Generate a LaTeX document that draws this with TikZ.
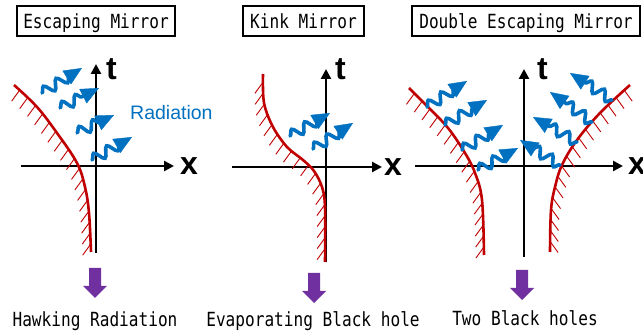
\documentclass[tikz,border=0pt]{standalone}
\usepackage{fontspec}
\usepackage{graphicx}
\newfontfamily\monofont{DejaVu Sans Mono}
\newfontfamily\arialfont{Liberation Sans}
\usetikzlibrary{arrows.meta,calc,decorations.pathmorphing,decorations.markings}
\definecolor{mred}{HTML}{C00000}
\definecolor{mblue}{HTML}{0070C0}
\definecolor{mpurple}{HTML}{7030A0}
\newcommand\mynarrow[1]{\scalebox{0.826}[1]{#1}}
\begin{document}
\begin{tikzpicture}[x=1pt,y=-1pt,
  axis/.style={line width=2.6pt,-{Triangle[length=10pt,width=10pt]}},
  axlabel/.style={font=\arialfont\bfseries\fontsize{32}{34}\selectfont,anchor=base west,inner sep=0pt},
  titlebox/.style={draw,line width=1.6pt,inner sep=0pt,minimum height=30pt,text height=18pt,text depth=2pt,font=\monofont\fontsize{19.5}{22}\selectfont},
  bottomtext/.style={anchor=base,inner sep=0pt,font=\monofont\fontsize{19.5}{22}\selectfont},
  wavebody/.style={mblue,line width=3.6pt,line cap=round,decorate,decoration={snake,segment length=15pt,amplitude=5pt}},
  wavehead/.style={mblue,line width=0.4pt,-{Triangle[length=18pt,width=16pt]}},
  mirrorL/.style={draw=mred,line width=2.6pt,postaction={decorate,decoration={markings,mark=between positions 0.04 and 0.97 step 11pt with {\pgftransformresetnontranslations\draw[mred,line width=0.9pt] (0,0) -- (-8,11);}}}},
  mirrorR/.style={draw=mred,line width=2.6pt,postaction={decorate,decoration={markings,mark=between positions 0.04 and 0.97 step 11pt with {\pgftransformresetnontranslations\draw[mred,line width=0.9pt] (0,0) -- (8,11);}}}},
  downarrow/.pic={\fill[mpurple] (-6,0) -- (6,0) -- (6,18) -- (12,18) -- (0,30) -- (-12,18) -- (-6,18) -- cycle;}
]
\useasboundingbox (0,0) rectangle (643,336);

% ---------- Panel 1: Escaping Mirror ----------
\node[titlebox,minimum width=158pt] (title1) at (96,21) {\mynarrow{Escaping Mirror}};
\coordinate (t1b) at (96,253); \coordinate (t1e) at (96,64);
\coordinate (x1b) at (21,166); \coordinate (x1e) at (174,166);
\draw[axis] (t1b) -- (t1e);
\draw[axis] (x1b) -- (x1e);
\node[axlabel] (tlab1) at (106,80) {t};
\node[axlabel] (xlab1) at (180,175) {x};
\draw[mirrorL] plot[smooth,tension=0.6] coordinates {(14,85) (37,107) (57,133) (77,163) (85,187) (89,213) (91,252)};
\foreach \i/\xa/\ya/\xb/\yb in {1/42/93/82/68, 2/60/108/99/88, 3/77/133/114/115, 4/92/160/132/137}{
  \coordinate (w1s\i) at (\xa,\ya);
  \coordinate (w1e\i) at (\xb,\yb);
  \coordinate (w1m\i) at ($(w1e\i)!13pt!(w1s\i)$);
  \coordinate (w1h\i) at ($(w1e\i)!18pt!(w1s\i)$);
  \draw[wavebody] (w1s\i) -- (w1m\i);
  \draw[wavehead] (w1h\i) -- (w1e\i);
}
\node[anchor=base west,inner sep=0pt,text=mblue,font=\arialfont\fontsize{19.5}{22}\selectfont] (rad) at (130,120) {Radiation};
\pic (arr1) at (95,268) {downarrow};
\node[bottomtext] (bot1) at (95,327) {\mynarrow{Hawking Radiation}};

% ---------- Panel 2: Kink Mirror ----------
\node[titlebox,minimum width=121pt] (title2) at (303.5,21) {\mynarrow{Kink Mirror}};
\coordinate (t2b) at (326,262); \coordinate (t2e) at (326,69);
\coordinate (x2b) at (232,167); \coordinate (x2e) at (382,167);
\draw[axis] (t2b) -- (t2e);
\draw[axis] (x2b) -- (x2e);
\node[axlabel] (tlab2) at (335,80) {t};
\node[axlabel] (xlab2) at (384,176) {x};
\draw[mirrorL] plot[smooth,tension=0.55] coordinates {(263,74) (264,103) (273,127) (287,147) (303,160) (314,171) (322,187) (325,207) (325,262)};
\foreach \i/\xa/\ya/\xb/\yb in {1/290/136/330/113, 2/313/149/353/123}{
  \coordinate (w2s\i) at (\xa,\ya);
  \coordinate (w2e\i) at (\xb,\yb);
  \coordinate (w2m\i) at ($(w2e\i)!13pt!(w2s\i)$);
  \coordinate (w2h\i) at ($(w2e\i)!18pt!(w2s\i)$);
  \draw[wavebody] (w2s\i) -- (w2m\i);
  \draw[wavehead] (w2h\i) -- (w2e\i);
}
\pic (arr2) at (314,273) {downarrow};
\node[bottomtext] (bot2) at (313,327) {\mynarrow{Evaporating Black hole}};

% ---------- Panel 3: Double Escaping Mirror ----------
\node[titlebox,minimum width=228pt] (title3) at (526,21) {\mynarrow{Double Escaping Mirror}};
\coordinate (t3b) at (524,257); \coordinate (t3e) at (524,69);
\coordinate (x3b) at (415,166); \coordinate (x3e) at (623,166);
\draw[axis] (t3b) -- (t3e);
\draw[axis] (x3b) -- (x3e);
\node[axlabel] (tlab3) at (537,80) {t};
\node[axlabel] (xlab3) at (628,175) {x};
\draw[mirrorL] plot[smooth,tension=0.6] coordinates {(409,88) (428,107) (448,128) (465,153) (475,173) (482,200) (484,255)};
\draw[mirrorR] plot[smooth,tension=0.6] coordinates {(630,85) (600,113) (577,140) (562,165) (555,187) (551,210) (550,252)};
\foreach \i/\xa/\ya/\xb/\yb in {1/427/107/467/81, 2/445/125/487/100, 3/462/150/503/125, 4/478/170/518/148,
  5/612/100/570/73, 6/592/122/550/92, 7/577/142/533/117, 8/560/165/520/140}{
  \coordinate (w3s\i) at (\xa,\ya);
  \coordinate (w3e\i) at (\xb,\yb);
  \coordinate (w3m\i) at ($(w3e\i)!13pt!(w3s\i)$);
  \coordinate (w3h\i) at ($(w3e\i)!18pt!(w3s\i)$);
  \draw[wavebody] (w3s\i) -- (w3m\i);
  \draw[wavehead] (w3h\i) -- (w3e\i);
}
\pic (arr3) at (522,270) {downarrow};
\node[bottomtext] (bot3) at (525,326) {\mynarrow{Two Black holes}};
\end{tikzpicture}
\end{document}
